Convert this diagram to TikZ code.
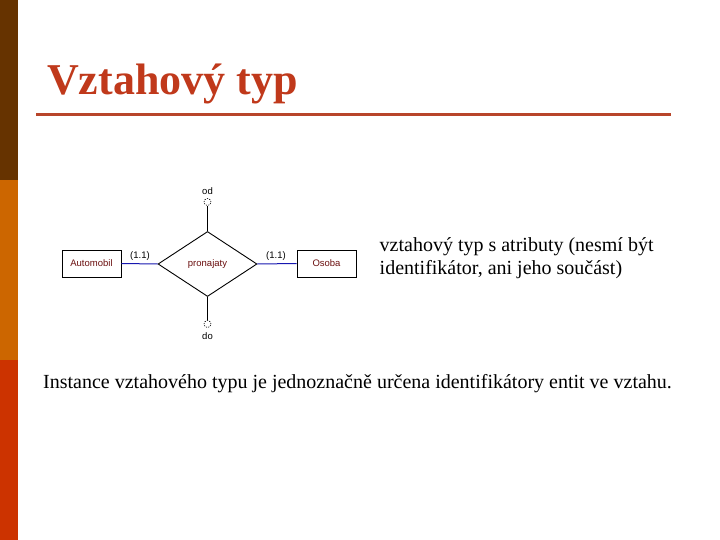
\documentclass[tikz,border=0pt]{standalone}
\usepackage{fontspec}
\setmainfont{Liberation Serif}
\setsansfont{Liberation Sans}
\usetikzlibrary{shapes.geometric}
\definecolor{barA}{HTML}{663300}
\definecolor{barB}{HTML}{CC6600}
\definecolor{barC}{HTML}{CC3300}
\definecolor{titlecol}{HTML}{C0391B}
\definecolor{rulecol}{HTML}{B8452A}
\definecolor{entcol}{HTML}{6B0F0F}
\definecolor{linkcol}{HTML}{1818B0}
\tikzset{
  entity/.style={draw=black, line width=0.9pt, minimum width=59pt, minimum height=27pt, inner sep=0pt, font=\sffamily\fontsize{9.5}{11}\selectfont, text=entcol},
  rel/.style={draw=black, line width=0.9pt, diamond, minimum width=99pt, minimum height=65pt, inner sep=0pt, aspect=1.52, font=\sffamily\fontsize{9.5}{11}\selectfont, text=entcol},
  attr/.style={draw=black, dashed, dash pattern=on 1.2pt off 1.2pt, circle, minimum size=7pt, inner sep=0pt, line width=0.6pt},
  small/.style={font=\sffamily\fontsize{9.5}{11}\selectfont, inner sep=0pt},
  body/.style={font=\fontsize{20}{23}\selectfont, inner sep=0pt, anchor=west, align=left},
  link/.style={draw=linkcol, line width=1pt},
  stem/.style={draw=black, line width=0.9pt}
}
\begin{document}
\begin{tikzpicture}[x=1pt,y=-1pt]
\useasboundingbox (0,0) rectangle (720,540);
\fill[white] (0,0) rectangle (720,540);
\fill[barA] (0,0) rectangle (18,180);
\fill[barB] (0,180) rectangle (18,360);
\fill[barC] (0,360) rectangle (18,540);
\node[anchor=base west, inner sep=0pt, text=titlecol, font=\bfseries\fontsize{44}{48}\selectfont] (title) at (47,95) {Vztahový typ};
\draw[rulecol, line width=3pt] (36,114.5) -- (671,114.5);
% diagram
\node[rel] (r) at (207.5,264) {pronajaty};
\node[entity] (a) at (91.5,263.5) {Automobil};
\node[entity] (o) at (326.5,263.5) {Osoba};
\node[attr] (c1) at (207.5,202) {};
\node[attr] (c2) at (207.5,324) {};
\node[small] (od) at (207.5,191) {od};
\node[small] (do) at (207.5,336) {do};
\path[link] (a.east) -- (r.west);
\path[link] (r.east) -- (o.west);
\path[stem] (c1.south) -- (r.north);
\path[stem] (r.south) -- (c2.north);
\node[small] (m1) at (140,256) {(1.1)};
\node[small] (m2) at (276,256) {(1.1)};
% texts
\node[body] (t1) at (379.5,258.5) {vztahový typ s atributy (nesmí být\\identifikátor, ani jeho součást)};
\node[body] (t2) at (43,383.5) {Instance vztahového typu je jednoznačně určena identifikátory entit ve vztahu.};
\end{tikzpicture}
\end{document}
